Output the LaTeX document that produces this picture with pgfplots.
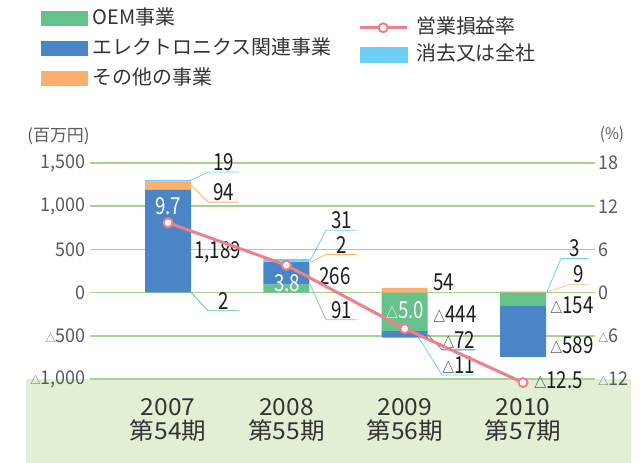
\documentclass[border=0pt]{standalone}
\usepackage{fontspec}
\setmainfont{Noto Sans CJK JP}[FakeStretch=0.8]
\newfontfamily\tickfont{Noto Sans CJK JP}[FakeStretch=0.95]
\newfontfamily\plainfont{Noto Sans CJK JP}
\newfontfamily\yearfam{Noto Sans CJK JP}[FakeStretch=1.05]
\usepackage{pgfplots}
\usepackage{pgfplotstable}
\pgfplotsset{compat=1.18}

\definecolor{oemgreen}{HTML}{64C28A}
\definecolor{elecblue}{HTML}{4A86C6}
\definecolor{othorange}{HTML}{FBB06E}
\definecolor{elimblue}{HTML}{6DCFF6}
\definecolor{linepink}{HTML}{EE8089}
\definecolor{gridgreen}{HTML}{AAD18E}
\definecolor{bandgreen}{HTML}{E2EFD5}
\definecolor{tickgray}{HTML}{5A5A5A}
\definecolor{txt}{HTML}{1E1E1E}
\definecolor{legtxt}{HTML}{333333}
\definecolor{lightorange}{HTML}{FCCB9E}
\definecolor{lightgreen}{HTML}{86CFA0}

\newcommand\tri[1]{{\fontsize{#1}{#1}\selectfont △}}
\newcommand\lblfont{\fontsize{23.5}{24}\selectfont}
\newcommand\wfont{\fontsize{23.5}{24}\selectfont}
\newcommand\legfont{\plainfont\fontsize{20}{22}\selectfont}
\newcommand\tickfnt{\tickfont\fontsize{19}{20}\selectfont}
\newcommand\yearfont{\yearfam\fontsize{23.5}{24}\selectfont}

% positive parts of each series (stacked upward)
\pgfplotstableread{
x oem elec other elim
0 2 1189 94 19
1 91 266 2 31
2 0 0 54 0
3 0 0 9 3
}\postab
% negative parts of each series (stacked downward)
\pgfplotstableread{
x oem elec other elim
0 0 0 0 0
1 0 0 0 0
2 -444 -72 0 -11
3 -154 -589 0 0
}\negtab
% operating margin (%)
\pgfplotstableread{
x rate
0 9.7
1 3.8
2 -5.0
3 -12.5
}\ratetab

\tikzset{
  lw/.style={line width=0.8bp},
  lbl/.style={font=\lblfont, text=txt, inner sep=1bp},
  wlbl/.style={font=\wfont, text=white, inner sep=0bp},
}
\pgfplotsset{
  base/.style={scale only axis, width=505bp, height=216bp, xmin=-0.66, xmax=3.608,
    clip=false, at={(0bp,0bp)}, anchor=south west},
  barax/.style={base, ybar stacked, bar width=46bp, ymin=-1000, ymax=1500},
  swatch/.style={legend image code/.code={\fill[#1] (0bp,-7bp) rectangle (46bp,7bp);}},
}

\begin{document}
\begin{tikzpicture}
\path (-90bp,379bp) rectangle (554bp,-84bp);
\fill[bandgreen] (-64bp,0bp) rectangle (541bp,-84bp);

\begin{axis}[barax,
  axis x line*=bottom, axis y line*=left, axis line style={draw=none},
  tick style={draw=none}, major tick length=0pt,
  ytick={-1000,-500,0,500,1000,1500},
  yticklabels={{\tri{11}1,000},{\tri{11}500},0,500,{1,000},{1,500}},
  ymajorgrids, grid style={gridgreen, line width=1.5bp},
  yticklabel style={font=\tickfnt, text=tickgray, inner sep=0pt, xshift=-4bp},
  xtick={0,1,2,3},
  xticklabels={{2007\\第54期},{2008\\第55期},{2009\\第56期},{2010\\第57期}},
  xticklabel style={align=center, font=\yearfont, text=legtxt, inner sep=0pt, yshift=-19bp},
  legend style={at={(axis description cs:-0.097,1.713)}, anchor=north west,
    draw=none, fill=none, inner sep=0pt, font=\legfont, text=legtxt, row sep=11bp,
    nodes={inner sep=0pt, text height=15bp, text depth=4bp},
    /tikz/every odd column/.append style={column sep=5bp}},
  legend cell align=left,
]
\addplot[fill=oemgreen, draw=none, forget plot] table[x=x, y=oem] {\postab};
\addplot[fill=elecblue, draw=none, forget plot] table[x=x, y=elec] {\postab};
\addplot[fill=othorange, draw=none, forget plot] table[x=x, y=other] {\postab};
\addplot[fill=elimblue, draw=none, forget plot] table[x=x, y=elim] {\postab};
\addlegendimage{swatch=oemgreen}
\addlegendentry{OEM事業}
\addlegendimage{swatch=elecblue}
\addlegendentry{エレクトロニクス関連事業}
\addlegendimage{swatch=othorange}
\addlegendentry{その他の事業}
\end{axis}

\begin{axis}[barax, hide axis]
\addplot[fill=oemgreen, draw=none, forget plot] table[x=x, y=oem] {\negtab};
\addplot[fill=elecblue, draw=none, forget plot] table[x=x, y=elec] {\negtab};
\addplot[fill=othorange, draw=none, forget plot] table[x=x, y=other] {\negtab};
\addplot[fill=elimblue, draw=none, forget plot] table[x=x, y=elim] {\negtab};
% 2007
\draw[elimblue, lw] (axis cs:0.194,1302) -- (axis cs:0.338,1395) -- (axis cs:0.600,1395) node[midway, above, lbl] {19};
\draw[othorange, lw] (axis cs:0.194,1244) -- (axis cs:0.338,1047) -- (axis cs:0.600,1047) node[midway, above, lbl] {94};
\node[lbl, anchor=west] at (axis cs:0.211,471) {1,189};
\draw[oemgreen, lw] (axis cs:0.194,0) -- (axis cs:0.338,-209) -- (axis cs:0.600,-209) node[midway, above, lbl] {2};
% 2008
\draw[elimblue, lw] (axis cs:1.200,372) -- (axis cs:1.335,721) -- (axis cs:1.597,721) node[midway, above, lbl] {31};
\draw[othorange, lw] (axis cs:1.200,349) -- (axis cs:1.335,442) -- (axis cs:1.597,442) node[midway, above, lbl] {2};
\node[lbl, anchor=west] at (axis cs:1.268,192) {266};
\draw[lightgreen, lw] (axis cs:1.200,93) -- (axis cs:1.335,-314) -- (axis cs:1.597,-314) node[midway, above, lbl] {91};
% 2009
\node[lbl, anchor=west] at (axis cs:2.231,122) {54};
\node[lbl, anchor=west] at (axis cs:2.231,-250) {\tri{15}444};
\draw[elecblue, lw] (axis cs:2.197,-488) -- (axis cs:2.316,-663) -- (axis cs:2.595,-663) node[midway, above, lbl] {\tri{15}72};
\draw[elimblue, lw] (axis cs:2.113,-512) -- (axis cs:2.316,-953) -- (axis cs:2.595,-953) node[midway, above, lbl] {\tri{15}11};
% 2010
\draw[elimblue, lw] (axis cs:3.203,12) -- (axis cs:3.321,395) -- (axis cs:3.549,395) node[midway, above, lbl] {3};
\draw[lightorange, lw] (axis cs:3.203,12) -- (axis cs:3.397,93) -- (axis cs:3.549,93) node[midway, above, lbl] {9};
\node[lbl, anchor=west] at (axis cs:3.22,-145) {\tri{15}154};
\node[lbl, anchor=west] at (axis cs:3.22,-610) {\tri{15}589};
\node[lbl, anchor=west] at (axis cs:3.085,-1012) {\tri{15}12.5};
\end{axis}

\begin{axis}[base, ymin=-12, ymax=18,
  axis x line=none, axis y line*=right, axis line style={draw=none},
  tick style={draw=none}, major tick length=0pt,
  ytick={-12,-6,0,6,12,18},
  yticklabels={{\tri{11}12},{\tri{11}6},0,6,12,18},
  yticklabel style={font=\tickfnt, text=tickgray, inner sep=0pt, xshift=3bp},
  legend style={at={(axis description cs:0.5307,1.671)}, anchor=north west,
    draw=none, fill=none, inner sep=0pt, font=\legfont, text=legtxt, row sep=8bp,
    nodes={inner sep=0pt, text height=15bp, text depth=4bp},
    /tikz/every odd column/.append style={column sep=8bp}},
  legend cell align=left,
]
\addplot[linepink, line width=3bp, mark=*, mark size=4.5bp,
  mark options={fill=white, draw=linepink, line width=2bp},
  legend image code/.code={\draw[linepink, line width=3bp] (0bp,0bp) -- (47bp,0bp);
    \draw[linepink, line width=2bp, fill=white] (23.5bp,0bp) circle (4.5bp);}]
  table[x=x, y=rate] {\ratetab};
\addlegendentry{営業損益率}
\addlegendimage{legend image code/.code={\fill[elimblue] (0bp,-7.5bp) rectangle (47bp,7.5bp);}}
\addlegendentry{消去又は全社}
% rate values written inside the bars (positions in % units)
\node[wlbl] at (axis cs:0.0,12.0) {9.7};
\node[wlbl] at (axis cs:1.006,1.32) {3.8};
\node[wlbl] at (axis cs:2.003,-2.44) {\tri{15}5.0};
\end{axis}

\node[font=\plainfont\fontsize{17}{17}\selectfont, text=tickgray] at (-31.5bp,243bp) {(百万円)};
\node[font=\tickfont\fontsize{16}{16}\selectfont, text=tickgray] at (522bp,244bp) {(\%)};
\end{tikzpicture}
\end{document}
